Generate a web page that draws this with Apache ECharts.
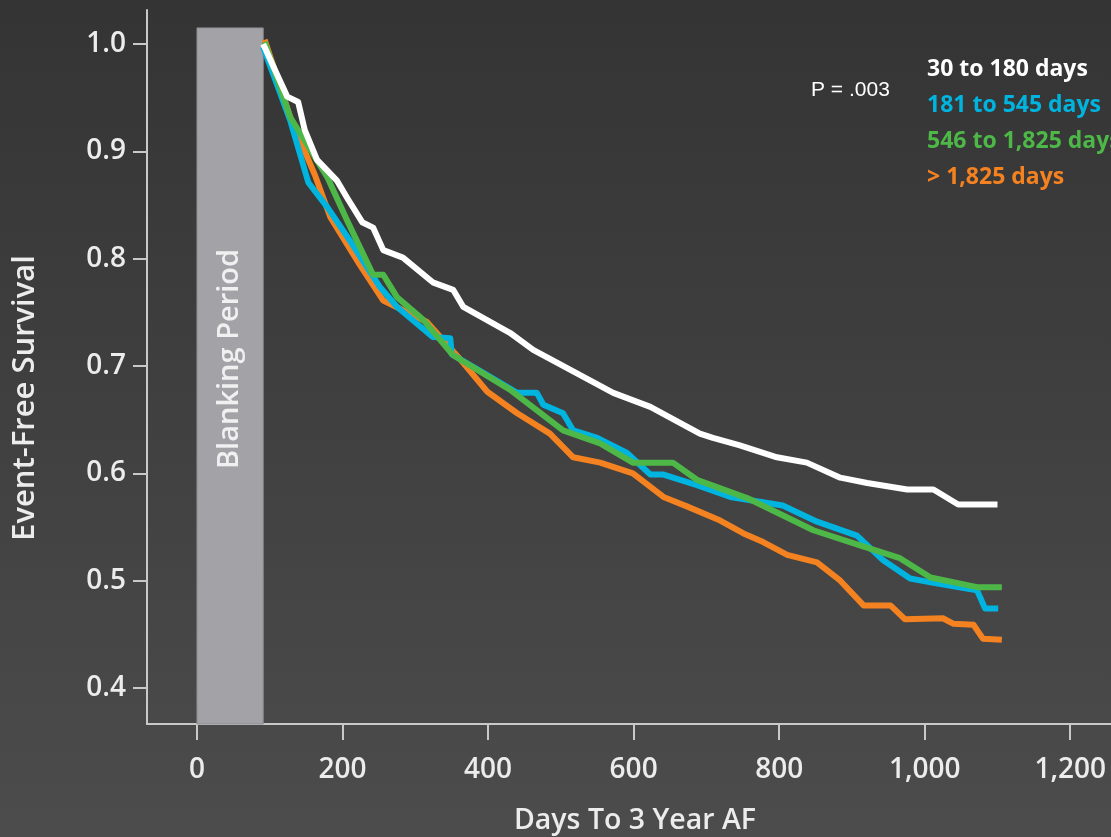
<!DOCTYPE html>
<html>
<head>
<meta charset="utf-8">
<script src="https://cdn.jsdelivr.net/npm/echarts@6/dist/echarts.min.js"></script>
<style>
html,body{margin:0;padding:0;}
#c{width:1111px;height:837px;}
</style>
</head>
<body>
<div id="c"></div>
<script>
// ---- data (days, event-free survival) ----
const seriesNames = ['30 to 180 days', '181 to 545 days', '546 to 1,825 days', '> 1,825 days'];
const xTicks = [0, 200, 400, 600, 800, 1000, 1200];
const yTicks = [0.4, 0.5, 0.6, 0.7, 0.8, 0.9, 1.0];
const blanking = [0, 91, 1.015];

const white30to180 = [
  [91,1.000],[107,0.976],[124,0.951],[139,0.946],[148,0.920],[165,0.892],[192,0.873],
  [206,0.857],[227,0.834],[242,0.829],[256,0.808],[283,0.801],[324,0.778],[352,0.771],
  [366,0.755],[430,0.731],[462,0.715],[572,0.675],[623,0.662],[691,0.637],[709,0.633],
  [746,0.626],[797,0.615],[838,0.610],[884,0.596],[921,0.591],[976,0.585],[1012,0.585],
  [1046,0.571],[1100,0.571]
];
const blue181to545 = [
  [91,0.997],[128,0.929],[153,0.871],[179,0.848],[210,0.817],[251,0.774],[275,0.755],
  [324,0.727],[348,0.726],[350,0.711],[393,0.694],[440,0.675],[467,0.675],[476,0.664],
  [503,0.656],[517,0.640],[550,0.633],[591,0.619],[623,0.599],[640,0.599],[687,0.589],
  [733,0.578],[805,0.570],[852,0.555],[907,0.542],[943,0.519],[980,0.502],[1012,0.498],
  [1072,0.491],[1083,0.474],[1101,0.474]
];
const green546to1825 = [
  [93,1.002],[128,0.932],[179,0.876],[206,0.836],[242,0.785],[256,0.785],[275,0.764],
  [311,0.743],[352,0.710],[430,0.678],[503,0.640],[554,0.628],[599,0.610],[654,0.610],
  [687,0.594],[756,0.577],[847,0.547],[911,0.533],[966,0.521],[1008,0.503],[1072,0.494],
  [1106,0.494]
];
const orangeOver1825 = [
  [93,1.004],[128,0.932],[162,0.878],[183,0.839],[224,0.794],[256,0.761],[316,0.741],
  [362,0.706],[399,0.676],[440,0.656],[485,0.637],[517,0.615],[554,0.610],[599,0.600],
  [641,0.578],[674,0.569],[719,0.556],[751,0.544],[778,0.536],[811,0.524],[852,0.517],
  [884,0.500],[916,0.477],[953,0.477],[973,0.464],[1025,0.465],[1039,0.460],[1067,0.459],
  [1080,0.446],[1106,0.445]
];
const colors = ['#ffffff', '#00b4e0', '#4db848', '#f58220'];

// ---- chart ----
const chart = echarts.init(document.getElementById('c'), null, {renderer: 'canvas'});
const FONT = '"Open Sans", "Noto Sans", sans-serif';
const axisCol = '#c9c9c9';
const txtCol = '#ececec';

function lineSeries(name, data, color, z) {
  return {
    type: 'line', name: name, data: data, symbol: 'none', z: z,
    lineStyle: {color: color, width: 6, join: 'round', cap: 'butt'},
    itemStyle: {color: color}, animation: false
  };
}

const option = {
  backgroundColor: {
    type: 'linear', x: 0, y: 0, x2: 0, y2: 1,
    colorStops: [{offset: 0, color: '#343434'}, {offset: 1, color: '#4c4c4c'}]
  },
  animation: false,
  grid: {left: 147, top: 10, right: 0, bottom: 113, containLabel: false},
  xAxis: {
    type: 'value', min: -68.7, max: 1256,
    axisLine: {show: true, onZero: false, lineStyle: {color: axisCol, width: 2}},
    axisTick: {show: true, customValues: xTicks, length: 16, lineStyle: {color: axisCol, width: 2}},
    axisLabel: {customValues: xTicks, margin: 32, color: txtCol, fontFamily: FONT, fontWeight: 600, fontSize: 28,
      formatter: v => v.toLocaleString('en-US')},
    splitLine: {show: false}
  },
  yAxis: {
    type: 'value', min: 0.3665, max: 1.0317,
    axisLine: {show: true, onZero: false, lineStyle: {color: axisCol, width: 2}},
    axisTick: {show: true, customValues: yTicks, length: 14, lineStyle: {color: axisCol, width: 2}},
    axisLabel: {customValues: yTicks, margin: 21, color: txtCol, fontFamily: FONT, fontWeight: 600, fontSize: 28,
      formatter: v => v.toFixed(1)},
    splitLine: {show: false}
  },
  legend: {
    orient: 'vertical', left: 922, top: 53, itemGap: 13, itemWidth: 0, itemHeight: 0, icon: 'none',
    selectedMode: false,
    textStyle: {fontFamily: FONT, fontWeight: 700, fontSize: 23, padding: [0, 0, 0, -5]},
    data: seriesNames.map((n, i) => ({name: n, textStyle: {color: colors[i]}}))
  },
  graphic: [
    {type: 'text', left: 811, top: 80, style: {text: 'P = .003', fill: '#ffffff', font: '21px "Liberation Sans", Arial, sans-serif'}},
    {type: 'text', x: 25, y: 398, rotation: Math.PI / 2, style: {text: 'Event-Free Survival', fill: txtCol,
      font: '600 31px ' + FONT, align: 'center', verticalAlign: 'middle'}},
    {type: 'text', x: 635, y: 821, style: {text: 'Days To 3 Year AF', fill: txtCol,
      font: '600 28.5px ' + FONT, align: 'center', verticalAlign: 'middle'}},
    {type: 'text', x: 230, y: 359, z: 100, rotation: Math.PI / 2, style: {text: 'Blanking Period', fill: '#f0f0f0',
      font: '600 29px ' + FONT, align: 'center', verticalAlign: 'middle'}}
  ],
  series: [
    Object.assign(lineSeries(seriesNames[3], orangeOver1825, colors[3], 2), {
      markArea: {
        silent: true,
        itemStyle: {color: '#a3a2a7', borderColor: '#8d8c90', borderWidth: 1},
        data: [[{xAxis: blanking[0], yAxis: 0.3665}, {xAxis: blanking[1], yAxis: blanking[2]}]]
      }
    }),
    lineSeries(seriesNames[1], blue181to545, colors[1], 3),
    lineSeries(seriesNames[2], green546to1825, colors[2], 4),
    lineSeries(seriesNames[0], white30to180, colors[0], 5)
  ]
};
chart.setOption(option);
</script>
</body>
</html>
